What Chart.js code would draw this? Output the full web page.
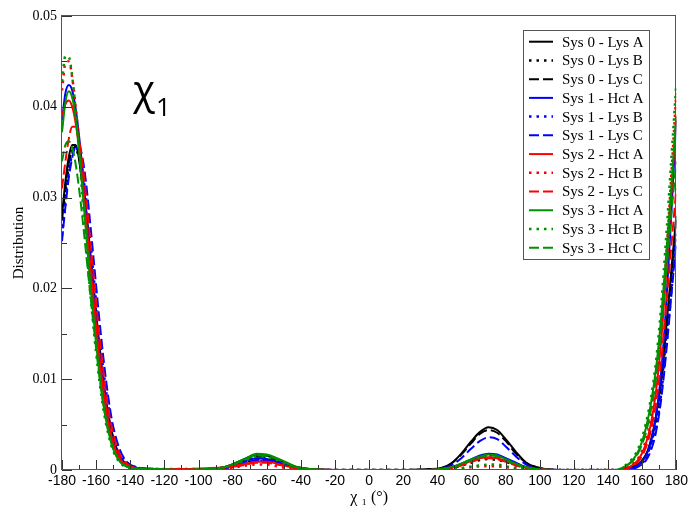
<!DOCTYPE html>
<html>
<head>
<meta charset="utf-8">
<script src="https://cdn.jsdelivr.net/npm/chart.js@4.4.1/dist/chart.umd.min.js"></script>
<style>
  html, body { margin: 0; padding: 0; background: #fff; }
  #chart { display: block; }
</style>
</head>
<body>
<canvas id="chart" width="691" height="507"></canvas>
<script>
// chi1 angle grid (degrees), denser around the peaks
const angles = [-180,-178,-176,-174,-172,-170,-168,-166,-164,-162,-160,-158,-156,-154,-152,-150,-146,-142,-136,-125,
  -110,-95,-85,-78,-72,-66,-60,-54,-48,-42,-35,-20,0,20,35,
  42,48,54,60,65,70,75,80,86,92,98,110,130,145,
  150,154,158,162,165,168,171,174,177,180];

const sys0LysA = [0.0280,0.0318,0.0345,0.0358,0.0358,0.0342,0.0312,0.0275,0.0235,0.0198,0.0160,0.0124,0.0093,0.0066,0.0046,0.0031,0.0012,0.0005,0.0002,0.0001,
  0,0.0001,0.0003,0.0008,0.0013,0.0017,0.0016,0.0012,0.0007,0.0003,0.0001,0,0,0,0.0001,
  0.0002,0.0007,0.0018,0.0032,0.0042,0.0047,0.0044,0.0034,0.0020,0.0008,0.0003,0,0,0,
  0.0001,0.0003,0.0007,0.0016,0.0032,0.0058,0.0098,0.0155,0.0218,0.0280];
const sys0LysB = [0.0268,0.0305,0.0335,0.0350,0.0353,0.0343,0.0318,0.0284,0.0246,0.0207,0.0168,0.0132,0.0099,0.0071,0.0050,0.0034,0.0014,0.0006,0.0002,0.0001,
  0,0.0001,0.0002,0.0005,0.0009,0.0012,0.0011,0.0009,0.0005,0.0002,0.0001,0,0,0,0,
  0.0001,0.0002,0.0005,0.0008,0.0011,0.0012,0.0011,0.0009,0.0005,0.0002,0.0001,0,0,0,
  0.0001,0.0002,0.0006,0.0014,0.0028,0.0052,0.0090,0.0145,0.0206,0.0268];
const sys0LysC = [0.0275,0.0310,0.0338,0.0352,0.0356,0.0346,0.0322,0.0289,0.0251,0.0212,0.0173,0.0136,0.0103,0.0075,0.0053,0.0036,0.0015,0.0006,0.0002,0.0001,
  0,0.0001,0.0003,0.0007,0.0011,0.0015,0.0014,0.0011,0.0006,0.0003,0.0001,0,0,0,0,
  0.0002,0.0007,0.0017,0.0030,0.0040,0.0044,0.0041,0.0032,0.0018,0.0008,0.0003,0,0,0,
  0.0001,0.0003,0.0007,0.0016,0.0031,0.0056,0.0095,0.0150,0.0212,0.0275];
const sys1HctA = [0.0385,0.0415,0.0424,0.0418,0.0398,0.0368,0.0330,0.0288,0.0245,0.0203,0.0163,0.0126,0.0094,0.0067,0.0046,0.0031,0.0013,0.0005,0.0002,0.0001,
  0,0.0001,0.0002,0.0006,0.0010,0.0013,0.0012,0.0009,0.0005,0.0002,0.0001,0,0,0,0,
  0.0001,0.0003,0.0007,0.0012,0.0016,0.0018,0.0017,0.0013,0.0008,0.0003,0.0001,0,0,0,
  0.0001,0.0002,0.0006,0.0015,0.0030,0.0058,0.0105,0.0180,0.0280,0.0385];
const sys1LysB = [0.0258,0.0295,0.0328,0.0348,0.0355,0.0350,0.0330,0.0300,0.0263,0.0224,0.0185,0.0148,0.0114,0.0085,0.0061,0.0043,0.0019,0.0008,0.0003,0.0001,
  0,0,0.0002,0.0004,0.0007,0.0010,0.0010,0.0007,0.0004,0.0002,0,0,0,0,0,
  0.0001,0.0002,0.0006,0.0011,0.0014,0.0016,0.0015,0.0012,0.0007,0.0003,0.0001,0,0,0,
  0,0.0002,0.0005,0.0012,0.0024,0.0045,0.0082,0.0135,0.0195,0.0258];
const sys1LysC = [0.0252,0.0290,0.0322,0.0344,0.0356,0.0357,0.0344,0.0318,0.0282,0.0243,0.0203,0.0164,0.0128,0.0096,0.0069,0.0048,0.0022,0.0009,0.0003,0.0001,
  0,0.0001,0.0002,0.0005,0.0008,0.0011,0.0011,0.0008,0.0005,0.0002,0.0001,0,0,0,0,
  0.0001,0.0005,0.0013,0.0024,0.0032,0.0036,0.0034,0.0026,0.0015,0.0006,0.0002,0,0,0,
  0,0.0001,0.0004,0.0010,0.0021,0.0041,0.0076,0.0128,0.0190,0.0252];
const sys2HctA = [0.0390,0.0403,0.0407,0.0400,0.0382,0.0354,0.0318,0.0278,0.0237,0.0197,0.0159,0.0123,0.0092,0.0066,0.0045,0.0030,0.0012,0.0005,0.0002,0.0001,
  0.0001,0.0002,0.0003,0.0005,0.0007,0.0009,0.0009,0.0007,0.0004,0.0002,0.0001,0,0,0,0,
  0.0001,0.0003,0.0006,0.0010,0.0013,0.0014,0.0013,0.0010,0.0006,0.0003,0.0001,0,0,0,
  0.0002,0.0005,0.0012,0.0028,0.0050,0.0085,0.0140,0.0215,0.0300,0.0390];
const sys2HctB = [0.0418,0.0448,0.0450,0.0432,0.0400,0.0360,0.0315,0.0270,0.0226,0.0185,0.0147,0.0113,0.0083,0.0059,0.0040,0.0027,0.0011,0.0004,0.0002,0.0001,
  0.0001,0.0001,0.0002,0.0003,0.0005,0.0006,0.0006,0.0004,0.0002,0.0001,0,0,0,0,0,
  0,0.0001,0.0002,0.0003,0.0004,0.0004,0.0004,0.0003,0.0002,0.0001,0,0,0,0,
  0.0002,0.0006,0.0014,0.0032,0.0056,0.0094,0.0152,0.0232,0.0322,0.0415];
const sys2LysC = [0.0310,0.0340,0.0365,0.0378,0.0378,0.0364,0.0338,0.0303,0.0264,0.0224,0.0184,0.0146,0.0112,0.0082,0.0058,0.0040,0.0017,0.0007,0.0002,0.0001,
  0.0001,0.0001,0.0003,0.0004,0.0006,0.0008,0.0008,0.0006,0.0004,0.0002,0.0001,0,0,0,0,
  0.0001,0.0002,0.0005,0.0009,0.0012,0.0013,0.0012,0.0009,0.0005,0.0002,0.0001,0,0,0,
  0.0001,0.0004,0.0010,0.0024,0.0043,0.0072,0.0118,0.0180,0.0245,0.0310];
const sys3HctA = [0.0372,0.0405,0.0417,0.0410,0.0388,0.0353,0.0310,0.0264,0.0219,0.0177,0.0139,0.0105,0.0076,0.0053,0.0036,0.0023,0.0009,0.0004,0.0001,0.0001,
  0,0.0001,0.0003,0.0008,0.0013,0.0018,0.0017,0.0013,0.0008,0.0003,0.0001,0,0,0,0,
  0.0001,0.0003,0.0007,0.0012,0.0015,0.0017,0.0016,0.0012,0.0007,0.0003,0.0001,0,0,0,
  0.0004,0.0010,0.0022,0.0045,0.0072,0.0110,0.0165,0.0235,0.0310,0.0390];
const sys3HctB = [0.0428,0.0456,0.0455,0.0433,0.0396,0.0350,0.0300,0.0252,0.0207,0.0166,0.0129,0.0097,0.0070,0.0049,0.0033,0.0021,0.0008,0.0003,0.0001,0.0001,
  0,0.0001,0.0003,0.0007,0.0011,0.0015,0.0014,0.0011,0.0006,0.0003,0.0001,0,0,0,0,
  0,0.0001,0.0002,0.0004,0.0005,0.0006,0.0006,0.0004,0.0002,0.0001,0,0,0,0,
  0.0005,0.0012,0.0025,0.0050,0.0078,0.0118,0.0178,0.0255,0.0340,0.0426];
const sys3HctC = [0.0340,0.0358,0.0362,0.0355,0.0337,0.0310,0.0277,0.0241,0.0204,0.0168,0.0134,0.0102,0.0075,0.0053,0.0036,0.0024,0.0009,0.0004,0.0001,0.0001,
  0,0.0001,0.0003,0.0007,0.0012,0.0016,0.0015,0.0012,0.0007,0.0003,0.0001,0,0,0,0,
  0.0001,0.0003,0.0006,0.0011,0.0014,0.0016,0.0015,0.0011,0.0006,0.0003,0.0001,0,0,0,
  0.0004,0.0009,0.0020,0.0040,0.0065,0.0100,0.0152,0.0215,0.0280,0.0340];

const seriesNames = ["Sys 0 - Lys A", "Sys 0 - Lys B", "Sys 0 - Lys C",
  "Sys 1 - Hct A", "Sys 1 - Lys B", "Sys 1 - Lys C",
  "Sys 2 - Hct A", "Sys 2 - Hct B", "Sys 2 - Lys C",
  "Sys 3 - Hct A", "Sys 3 - Hct B", "Sys 3 - Hct C"];
const seriesValues = [sys0LysA, sys0LysB, sys0LysC, sys1HctA, sys1LysB, sys1LysC,
  sys2HctA, sys2HctB, sys2LysC, sys3HctA, sys3HctB, sys3HctC];
const seriesColors = ["#000000", "#000000", "#000000", "#0000ff", "#0000ff", "#0000ff",
  "#ff0000", "#ff0000", "#ff0000", "#009100", "#009100", "#009100"];
const seriesStyles = ["solid", "dotted", "dashed", "solid", "dotted", "dashed",
  "solid", "dotted", "dashed", "solid", "dotted", "dashed"];

const xTickValues = [-180,-160,-140,-120,-100,-80,-60,-40,-20,0,20,40,60,80,100,120,140,160,180];
const yTickValues = [0, 0.01, 0.02, 0.03, 0.04, 0.05];
const yTickLabels = ["0", "0.01", "0.02", "0.03", "0.04", "0.05"];

const dashes = { solid: [], dotted: [2.5, 5], dashed: [10, 4] };

const datasets = seriesValues.map((vals, i) => ({
  label: seriesNames[i],
  data: angles.map((a, j) => ({ x: a, y: vals[j] })),
  borderColor: seriesColors[i],
  borderWidth: seriesStyles[i] === "dotted" ? 2.5 : 2,
  borderDash: dashes[seriesStyles[i]],
  pointRadius: 0,
  cubicInterpolationMode: "monotone",
  order: -i,
}));

// inward ticks + frame, like the original plot
const frameTicks = {
  id: "frameTicks",
  afterDatasetsDraw(chart) {
    const { ctx, chartArea: a, scales: { x, y } } = chart;
    ctx.save();
    ctx.strokeStyle = "#333";
    ctx.lineWidth = 1;
    ctx.beginPath();
    for (let i = 0; i < xTickValues.length; i++) {
      const px = Math.round(x.getPixelForValue(xTickValues[i])) + 0.5;
      ctx.moveTo(px, a.bottom);
      ctx.lineTo(px, a.bottom - 10);
      if (i < xTickValues.length - 1) {
        const mx = Math.round(x.getPixelForValue((xTickValues[i] + xTickValues[i + 1]) / 2)) + 0.5;
        ctx.moveTo(mx, a.bottom);
        ctx.lineTo(mx, a.bottom - 5);
      }
    }
    for (let i = 0; i < yTickValues.length; i++) {
      const py = Math.round(y.getPixelForValue(yTickValues[i])) + 0.5;
      ctx.moveTo(a.left, py);
      ctx.lineTo(a.left + 10, py);
      if (i < yTickValues.length - 1) {
        const my = Math.round(y.getPixelForValue((yTickValues[i] + yTickValues[i + 1]) / 2)) + 0.5;
        ctx.moveTo(a.left, my);
        ctx.lineTo(a.left + 5, my);
      }
    }
    ctx.stroke();
    ctx.strokeStyle = "#555";
    ctx.strokeRect(Math.round(a.left) - 0.5, Math.round(a.top) - 0.5, Math.round(a.width), Math.round(a.height));
    ctx.restore();
  },
};

const boxLegend = {
  id: "boxLegend",
  afterDraw(chart) {
    const { ctx } = chart;
    const left = 523, top = 30, right = 649, bottom = 259;
    const rowTop = 41.7, rowGap = 18.73;
    ctx.save();
    ctx.fillStyle = "#fff";
    ctx.fillRect(left, top, right - left, bottom - top);
    ctx.strokeStyle = "#555";
    ctx.lineWidth = 1;
    ctx.strokeRect(left + 0.5, top + 0.5, right - left, bottom - top);
    ctx.font = '15px "Liberation Serif", "Times New Roman", serif';
    ctx.textBaseline = "middle";
    chart.data.datasets.forEach((ds, i) => {
      const cy = rowTop + i * rowGap;
      ctx.strokeStyle = ds.borderColor;
      ctx.lineWidth = ds.borderWidth;
      ctx.setLineDash(ds.borderDash);
      ctx.beginPath();
      ctx.moveTo(529, cy);
      ctx.lineTo(553, cy);
      ctx.stroke();
      ctx.setLineDash([]);
      ctx.fillStyle = "#000";
      ctx.fillText(ds.label, 562, cy + 1);
    });

    // big chi_1 label inside the plot
    const x = chart.scales.x.getPixelForValue(-138.3);
    const y = chart.scales.y.getPixelForValue(0.0403);
    ctx.fillStyle = "#000";
    ctx.textBaseline = "alphabetic";
    ctx.font = '40px "Open Sans", sans-serif';
    ctx.fillText("χ", x, y);
    const w = ctx.measureText("χ").width;
    ctx.font = '26px "Open Sans", sans-serif';
    ctx.fillText("1", x + w + 1, y + 12);
    ctx.restore();
  },
};

new Chart(document.getElementById("chart"), {
  type: "line",
  data: { datasets },
  options: {
    responsive: false,
    animation: false,
    layout: { padding: { left: 0, right: 14, top: 16, bottom: 0 } },
    plugins: { legend: { display: false }, tooltip: { enabled: false } },
    scales: {
      x: {
        type: "linear",
        min: -180,
        max: 180,
        afterBuildTicks: (s) => { s.ticks = xTickValues.map((v) => ({ value: v })); },
        afterFit: (s) => { s.height = 37; },
        grid: { display: false, drawTicks: false },
        border: { display: false },
        ticks: {
          color: "#000",
          padding: 3,
          maxRotation: 0,
          autoSkip: false,
          font: { family: '"Liberation Sans", Arial, sans-serif', size: 14 },
        },
        title: {
          display: true,
          text: "χ ₁ (°)",
          color: "#000",
          font: { family: '"Liberation Serif", serif', size: 16 },
          padding: { top: 0, bottom: 0 },
        },
      },
      y: {
        type: "linear",
        min: 0,
        max: 0.05,
        afterBuildTicks: (s) => { s.ticks = yTickValues.map((v) => ({ value: v })); },
        afterFit: (s) => { s.width = 62; },
        grid: { display: false, drawTicks: false },
        border: { display: false },
        ticks: {
          color: "#000",
          padding: 5,
          callback: (v, i) => yTickLabels[i],
          font: { family: '"Liberation Serif", serif', size: 14 },
        },
        title: {
          display: true,
          text: "Distribution",
          color: "#000",
          font: { family: '"Liberation Serif", serif', size: 15 },
          padding: { top: 10, bottom: 0 },
        },
      },
    },
  },
  plugins: [frameTicks, boxLegend],
});
</script>
</body>
</html>
